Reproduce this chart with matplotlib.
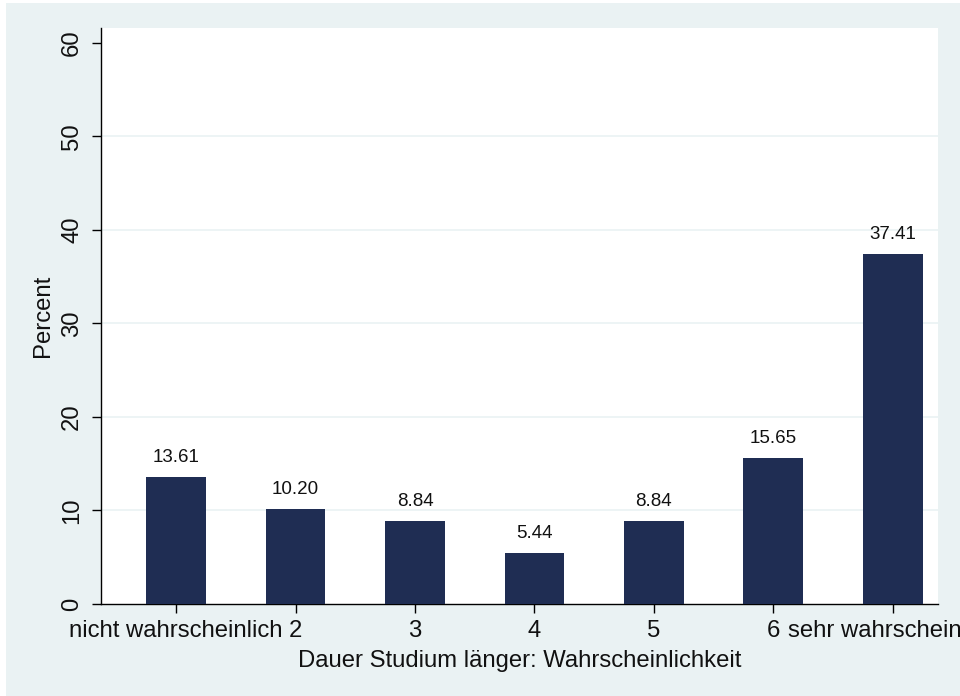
import matplotlib
matplotlib.use("Agg")
import matplotlib.pyplot as plt
from matplotlib.patches import Rectangle

categories = ["nicht wahrscheinlich", "2", "3", "4", "5", "6", "sehr wahrscheinlich"]
percent = [13.61, 10.20, 8.84, 5.44, 8.84, 15.65, 37.41]
yticks = [0, 10, 20, 30, 40, 50, 60]
xlabel = "Dauer Studium länger: Wahrscheinlichkeit"
ylabel = "Percent"

plt.rcParams['font.family'] = ['Liberation Sans', 'DejaVu Sans']

W, H = 960, 696
fig = plt.figure(figsize=(W / 100, H / 100), dpi=100, facecolor="white")
bg = "#EAF2F3"
fig.patches.append(Rectangle((6 / W, 0), 1, (H - 3) / H, transform=fig.transFigure,
                             facecolor=bg, edgecolor="none", zorder=-10))

left, right, top, bottom = 100.5, 938, 28, 604
ax = fig.add_axes([left / W, (H - bottom) / H, (right - left) / W, (bottom - top) / H])
ax.set_zorder(5)
ax.set_facecolor("white")

x = list(range(1, len(percent) + 1))
ax.bar(x, percent, width=0.5, color="#1F2D53", zorder=3)
for xi, v in zip(x, percent):
    ax.annotate(f"{v:.2f}", (xi, v), xytext=(0, 8), textcoords="offset points",
                ha="center", va="bottom", fontsize=13.5, color="#111111", zorder=4)

for t in yticks[1:-1]:
    ax.axhline(t, color=bg, linewidth=1.2, zorder=1)

ax.set_xlim(0.367, 7.379)
ax.set_ylim(0, 61.6)
ax.set_xticks(x)
ax.set_xticklabels(categories)
ax.set_yticks(yticks)
ax.set_yticklabels([str(t) for t in yticks], rotation=90, va="center")

for s in ["top", "right"]:
    ax.spines[s].set_visible(False)
for s in ["left", "bottom"]:
    ax.spines[s].set_linewidth(1.0)
    ax.spines[s].set_color("black")

ax.tick_params(axis="both", direction="out", length=6.5, width=1.0, labelsize=17.2,
               colors="black", labelcolor="#111111")
ax.tick_params(axis="x", pad=5)
ax.tick_params(axis="y", pad=6)

ax.set_xlabel(xlabel, fontsize=17.2, color="#111111", labelpad=5.5)
ax.set_ylabel(ylabel, fontsize=17.2, color="#111111", labelpad=5)

fig.savefig("out.png", dpi=100, facecolor=fig.get_facecolor())
